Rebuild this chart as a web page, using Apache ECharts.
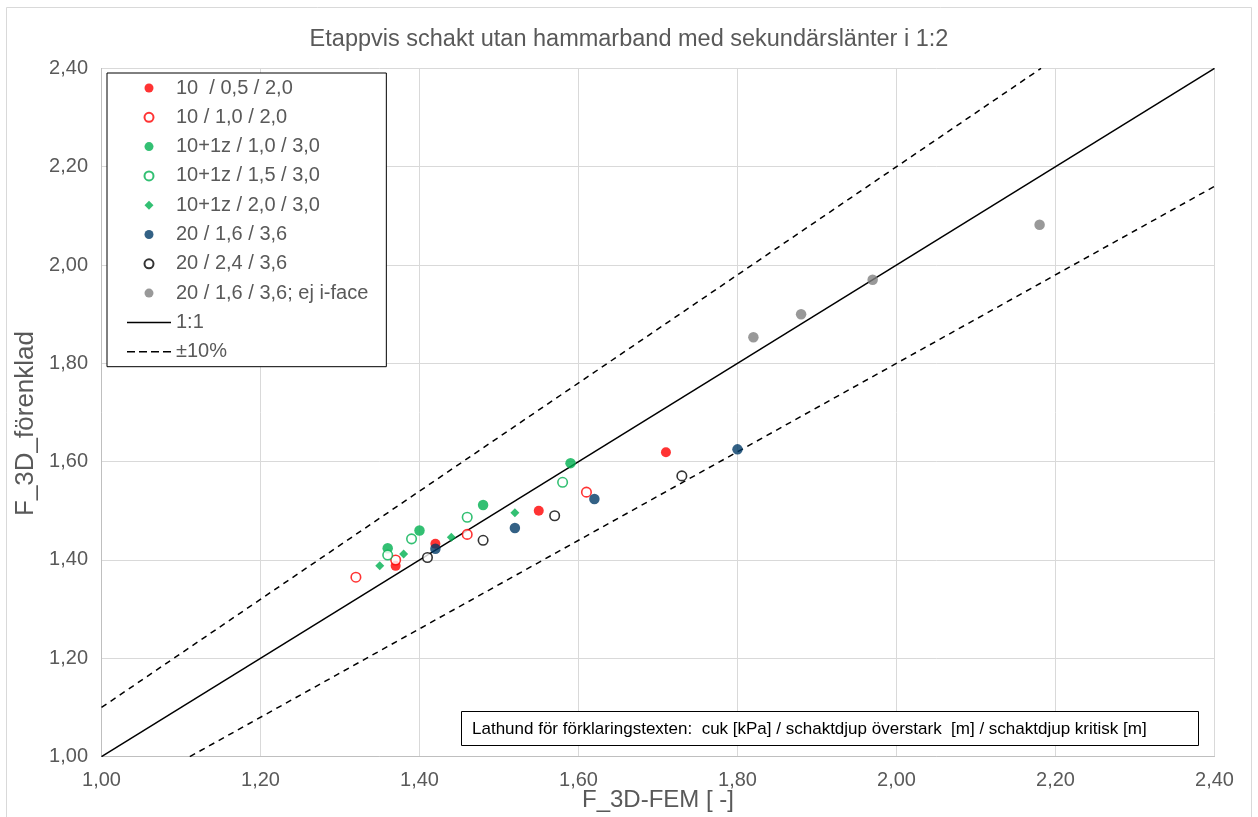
<!DOCTYPE html>
<html>
<head>
<meta charset="utf-8">
<script src="https://cdn.jsdelivr.net/npm/echarts@6/dist/echarts.min.js"></script>
<style>
html,body{margin:0;padding:0;background:#fff;}
#c{width:1258px;height:817px;}
</style>
</head>
<body>
<div id="c"></div>
<script>
// ---- data ----
const xTicks = ['1,00','1,20','1,40','1,60','1,80','2,00','2,20','2,40'];
const s_10_05_20 = [[1.37,1.388],[1.42,1.433],[1.55,1.500],[1.71,1.619]];
const s_10_10_20 = [[1.32,1.365],[1.37,1.400],[1.46,1.452],[1.61,1.538]];
const s_10z_10_30 = [[1.36,1.424],[1.40,1.460],[1.48,1.512],[1.59,1.597]];
const s_10z_15_30 = [[1.36,1.410],[1.39,1.443],[1.46,1.487],[1.58,1.558]];
const s_10z_20_30 = [[1.35,1.388],[1.38,1.412],[1.44,1.446],[1.52,1.496]];
const s_20_16_36 = [[1.42,1.423],[1.52,1.465],[1.62,1.524],[1.80,1.625]];
const s_20_24_36 = [[1.41,1.405],[1.48,1.440],[1.57,1.490],[1.73,1.571]];
const s_20_16_36_ej = [[1.82,1.853],[1.88,1.900],[1.97,1.970],[2.18,2.082]];
const line11 = [[1.0,1.0],[2.4,2.4]];
const linePlus10 = [[1.0,1.1],[2.4/1.1,2.4]];
const lineMinus10 = [[1.0/0.9,1.0],[2.4,2.16]];

const names = ['10  / 0,5 / 2,0','10 / 1,0 / 2,0','10+1z / 1,0 / 3,0','10+1z / 1,5 / 3,0',
  '10+1z / 2,0 / 3,0','20 / 1,6 / 3,6','20 / 2,4 / 3,6','20 / 1,6 / 3,6; ej i-face','1:1','±10%'];

const RED='#FF0000', GREEN='#00B050', NAVY='#003A66', GRAY='#808080', BLACK='#000000';
const TXT='#595959';
const REG = '"Liberation Sans",Arial,sans-serif';

// legend icons (44 x 9 box)
const ICON_DIAMOND = 'path://M0,0M44,9M22,0L26.5,4.5L22,9L17.5,4.5Z';
const ICON_SOLID = 'path://M0,0M44,9M0,3.75L44,3.75L44,5.25L0,5.25Z';
const ICON_DASH = 'path://M0,0M44,9M0,3.75h8v1.5h-8ZM12,3.75h8v1.5h-8ZM24,3.75h8v1.5h-8ZM36,3.75h8v1.5h-8Z';

function filled(name, data, color, symbol, size){
  return {name, type:'scatter', data, symbol:symbol||'circle', symbolSize:size||10,
    itemStyle:{color, borderWidth:0}, z:5};
}
function hollow(name, data, color){
  return {name, type:'scatter', data, symbol:'circle', symbolSize:9.5,
    itemStyle:{color:'#fff', borderColor:color, borderWidth:1.6}, z:5};
}

const legendData = names.map((n,i)=>{
  if(i===4) return {name:n, icon:ICON_DIAMOND};
  if(i===8) return {name:n, icon:ICON_SOLID};
  if(i===9) return {name:n, icon:ICON_DASH};
  return {name:n};
});

const chart = echarts.init(document.getElementById('c'), null, {renderer:'canvas'});
chart.setOption({
  animation:false,
  backgroundColor:'#fff',
  title:{text:'Etappvis schakt utan hammarband med sekundärslänter i 1:2', left:'center', top:22.5,
    textStyle:{color:TXT, fontSize:23.5, fontWeight:'normal', fontFamily:REG}},
  grid:{left:101.5, right:43.5, top:68.4, bottom:60.4, containLabel:false, outerBoundsMode:'none'},
  xAxis:{type:'value', min:1.0, max:2.4, interval:0.2,
    name:'F_3D-FEM [ -]', nameLocation:'middle', nameGap:32, nameMoveOverlap:false,
    nameTextStyle:{color:TXT, fontSize:24, fontFamily:REG},
    axisLine:{show:true, lineStyle:{color:'#BFBFBF', width:1}},
    axisTick:{show:false},
    axisLabel:{color:TXT, fontSize:20, fontFamily:REG, margin:13.5,
      formatter:v=>xTicks[Math.round((v-1)/0.2)] || v.toFixed(2).replace('.',',')},
    splitLine:{show:true, lineStyle:{color:'#D9D9D9', width:1}}},
  yAxis:{type:'value', min:1.0, max:2.4, interval:0.2,
    name:'F_3D_förenklad', nameLocation:'middle', nameGap:62.5, nameMoveOverlap:false,
    nameTextStyle:{color:TXT, fontSize:26, fontFamily:REG, padding:[0,22,0,0]},
    axisLine:{show:true, lineStyle:{color:'#BFBFBF', width:1}},
    axisTick:{show:false},
    axisLabel:{color:TXT, fontSize:20, fontFamily:REG, margin:13.5,
      formatter:v=>v.toFixed(2).replace('.',',')},
    splitLine:{show:true, lineStyle:{color:'#D9D9D9', width:1}}},
  legend:{orient:'vertical', left:107, top:73, data:legendData,
    itemWidth:44, itemHeight:9, itemGap:9.3, symbolKeepAspect:true,
    padding:[5,18,5,20],
    borderColor:'#000', borderWidth:1, backgroundColor:'#fff',
    textStyle:{color:TXT, fontSize:20, fontFamily:REG, lineHeight:20}},
  graphic:[
    {type:'rect', shape:{x:6.5, y:7.5, width:1245, height:830}, style:{fill:null, stroke:'#D9D9D9', lineWidth:1}, silent:true, z:-10},
    {type:'rect', shape:{x:461.5,y:711.5,width:737,height:34}, style:{fill:'#fff', stroke:'#000', lineWidth:1}, z:20},
    {type:'text', x:472, y:729, style:{text:'Lathund för förklaringstexten:  cuk [kPa] / schaktdjup överstark  [m] / schaktdjup kritisk [m]',
        fill:'#000', fontSize:17, fontFamily:REG, verticalAlign:'middle'}, z:21}
  ],
  series:[
    filled(names[0], s_10_05_20, RED),
    hollow(names[1], s_10_10_20, RED),
    filled(names[2], s_10z_10_30, GREEN, 'circle', 10.5),
    hollow(names[3], s_10z_15_30, GREEN),
    filled(names[4], s_10z_20_30, GREEN, 'diamond', 9),
    filled(names[5], s_20_16_36, NAVY, 'circle', 10.5),
    hollow(names[6], s_20_24_36, BLACK),
    filled(names[7], s_20_16_36_ej, GRAY, 'circle', 10.5),
    {name:names[8], type:'line', data:line11, symbol:'none', lineStyle:{color:'#000', width:1.5}, itemStyle:{color:'#000'}, z:3},
    {name:names[9], type:'line', data:linePlus10, symbol:'none', lineStyle:{color:'#000', width:1.5, type:[6,5]}, itemStyle:{color:'#000'}, z:3},
    {name:names[9], type:'line', data:lineMinus10, symbol:'none', lineStyle:{color:'#000', width:1.5, type:[6,5]}, itemStyle:{color:'#000'}, z:3}
  ]
});
</script>
</body>
</html>
